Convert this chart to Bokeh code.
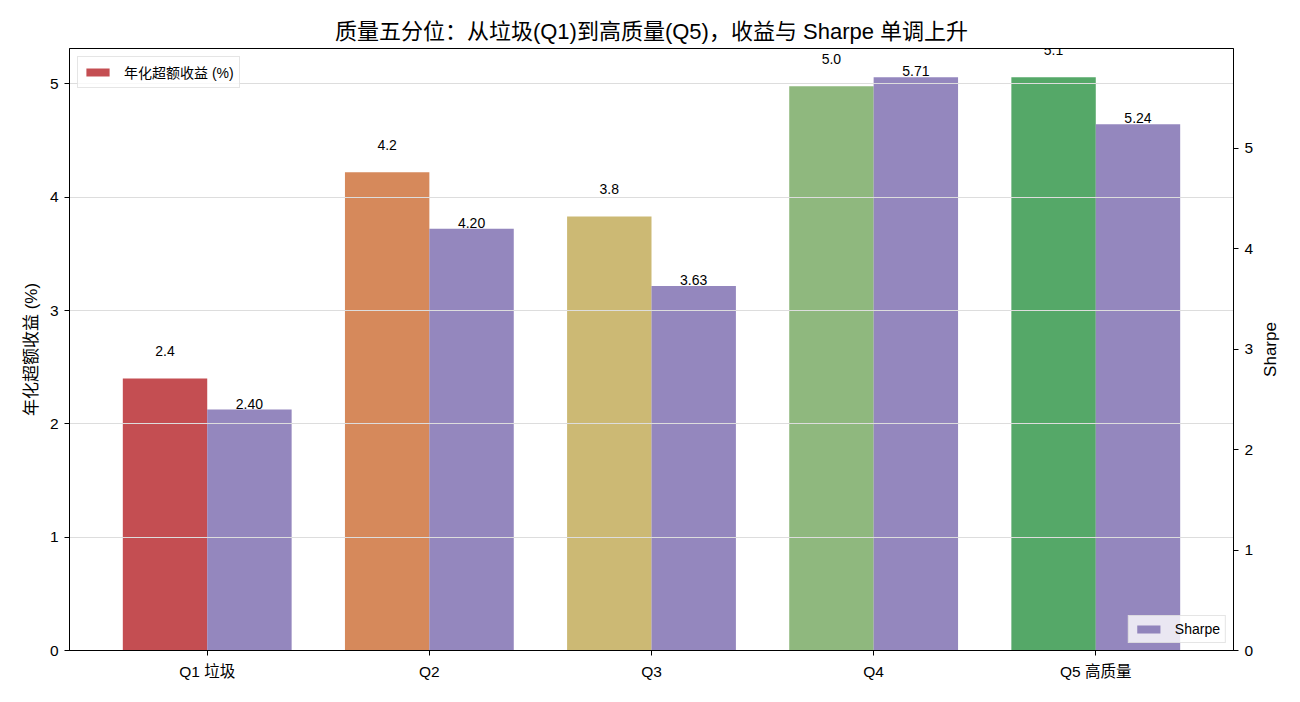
import math
from bokeh.plotting import figure
from bokeh.layouts import row
from bokeh.models import (Range1d, LinearAxis, FixedTicker, ColumnDataSource,
                          LabelSet, Label, Legend, LegendItem)
from bokeh.core.properties import value
from bokeh.embed import file_html
from bokeh.resources import INLINE

# ---- data ----
categories = ["Q1 垃圾", "Q2", "Q3", "Q4", "Q5 高质量"]
excess_return = [2.40, 4.22, 3.83, 4.98, 5.06]   # 年化超额收益 (%)
sharpe = [2.40, 4.20, 3.63, 5.71, 5.24]
left_ticks = [0, 1, 2, 3, 4, 5]
right_ticks = [0, 1, 2, 3, 4, 5]

# ---- style ----
ret_colors = ["#c44e52", "#d6895b", "#ccb974", "#8fb87e", "#55a868"]
sharpe_color = "#8172b3"
FONT = "Liberation Sans, Noto Sans CJK SC"
bar_w = 0.38
STRIP_W = 40   # narrow strip holding the right-axis title

idx = list(range(len(categories)))
src = ColumnDataSource(dict(
    x_ret=[i - bar_w / 2 for i in idx],
    x_sh=[i + bar_w / 2 for i in idx],
    ret=excess_return,
    sh=sharpe,
    ret_lbl_y=[v + 0.2 for v in excess_return],
    ret_txt=["%.1f" % v for v in excess_return],
    sh_txt=["%.2f" % v for v in sharpe],
    color=ret_colors,
))

x_rng = Range1d(-0.62, len(categories) - 1 + 0.62)
sh_rng = Range1d(0, max(sharpe) * 1.05)
p = figure(width=1300 - STRIP_W, height=702, output_backend="svg", toolbar_location=None,
           x_range=x_rng,
           y_range=Range1d(0, max(excess_return) * 1.05),
           min_border_left=69, min_border_right=67 - STRIP_W, min_border_top=48,
           min_border_bottom=52)
p.extra_y_ranges = {"sharpe": sh_rng}

p.title.text = "质量五分位：从垃圾(Q1)到高质量(Q5)，收益与 Sharpe 单调上升"
p.title.align = "center"
p.title.text_font = FONT
p.title.text_font_size = "22px"
p.title.text_font_style = "normal"
p.title.text_color = "black"
p.title.standoff = 10

p.outline_line_color = "black"
p.outline_line_width = 1
p.outline_line_alpha = 1

p.xgrid.visible = False
p.ygrid.ticker = FixedTicker(ticks=left_ticks)
p.ygrid.grid_line_color = "#dddddd"
p.ygrid.grid_line_width = 1
p.ygrid.level = "glyph"

r_ret = p.vbar(x="x_ret", top="ret", width=bar_w, source=src, fill_color="color",
               line_color=None, level="underlay")
r_sh = p.vbar(x="x_sh", top="sh", width=bar_w, source=src, fill_color=sharpe_color,
              fill_alpha=0.85, line_color=None, y_range_name="sharpe")

def style_axis(ax):
    ax.axis_line_color = "black"
    ax.axis_line_width = 1
    ax.major_tick_line_color = "black"
    ax.major_tick_out = 5
    ax.major_tick_in = 0
    ax.minor_tick_line_color = None
    ax.major_label_text_font = FONT
    ax.major_label_text_font_size = "15.5px"
    ax.major_label_text_color = "black"
    ax.axis_label_text_font = FONT
    ax.axis_label_text_font_size = "17px"
    ax.axis_label_text_font_style = "normal"
    ax.axis_label_text_color = "black"

xa = p.xaxis[0]
style_axis(xa)
xa.ticker = FixedTicker(ticks=idx)
xa.major_label_overrides = {i: c for i, c in zip(idx, categories)}
xa.major_label_standoff = 7

ya = p.yaxis[0]
style_axis(ya)
ya.ticker = FixedTicker(ticks=left_ticks)
ya.axis_label = "年化超额收益 (%)"
ya.major_label_standoff = 6
ya.axis_label_standoff = 6

ra = LinearAxis(y_range_name="sharpe", ticker=FixedTicker(ticks=right_ticks))
style_axis(ra)
ra.major_label_standoff = 6
p.add_layout(ra, "right")

lab1 = LabelSet(x="x_ret", y="ret_lbl_y", text="ret_txt", source=src,
                text_align="center", text_baseline="alphabetic",
                text_font=value(FONT), text_font_size=value("14px"), text_color="black")
lab2 = LabelSet(x="x_sh", y="sh", text="sh_txt", source=src, y_range_name="sharpe",
                text_align="center", text_baseline="alphabetic", y_offset=1,
                text_font=value(FONT), text_font_size=value("14px"), text_color="black")
p.add_layout(lab1)
p.add_layout(lab2)

def style_legend(lg, margin):
    lg.margin = margin
    lg.padding = 5
    lg.spacing = 0
    lg.glyph_width = 29
    lg.glyph_height = 10
    lg.label_height = 14
    lg.label_standoff = 12
    lg.label_text_font = FONT
    lg.label_text_font_size = "14px"
    lg.label_text_color = "black"
    lg.border_line_color = "#cccccc"
    lg.border_line_width = 1
    lg.background_fill_color = "white"
    lg.background_fill_alpha = 0.8

leg1 = Legend(items=[LegendItem(label="年化超额收益 (%)", renderers=[r_ret], index=0)],
              location="top_left")
style_legend(leg1, 8)
leg2 = Legend(items=[LegendItem(label="Sharpe", renderers=[r_sh])],
              location="bottom_right")
style_legend(leg2, 7)
p.add_layout(leg1)
p.add_layout(leg2)

# strip carrying the right-axis title "Sharpe", read bottom-to-top
strip = figure(width=STRIP_W, height=702, output_backend="svg", toolbar_location=None,
               x_range=Range1d(0, 1), y_range=Range1d(0, 1),
               min_border=0, min_border_left=0, min_border_right=0,
               min_border_top=0, min_border_bottom=0)
strip.axis.visible = False
strip.grid.visible = False
strip.outline_line_color = None
strip.add_layout(Label(x=0.25, y=0.5, text="Sharpe", angle=math.pi / 2,
                       text_align="center", text_baseline="middle",
                       text_font=FONT, text_font_size="17px", text_color="black"))

layout = row(p, strip, spacing=0)
open("out.html", "w").write(file_html(layout, INLINE))
